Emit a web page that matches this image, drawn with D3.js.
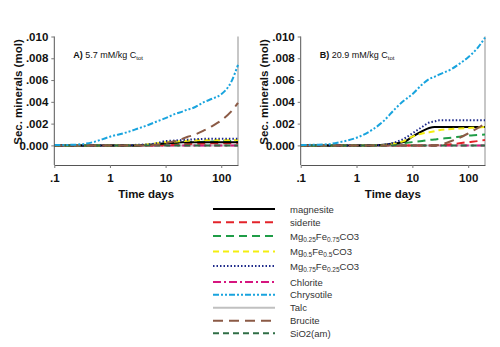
<!DOCTYPE html>
<html>
<head>
<meta charset="utf-8">
<script src="https://cdn.jsdelivr.net/npm/d3@7"></script>
<style>
  body { margin: 0; background: #fff; }
  svg { font-family: "Liberation Sans", Arial, sans-serif; }
</style>
</head>
<body>
<div id="chart"></div>
<script>
const width = 500;
const height = 347;

// time points (days)
const times = [0.1, 0.2, 0.3, 0.5, 1, 2, 3, 5, 7, 10, 15, 20, 25, 30, 50, 70, 100, 150, 200];

const xTickValues = [0.1, 1, 10, 100];
const xTickLabels = ['.1', '1', '10', '100'];
const yTickValues = [0, 0.002, 0.004, 0.006, 0.008, 0.010];
const yTickLabels = ['0.000', '.002', '.004', '.006', '.008', '.010'];

const mineralNames = ['magnesite', 'siderite', 'Mg0.25Fe0.75CO3', 'Mg0.5Fe0.5CO3', 'Mg0.75Fe0.25CO3',
  'Chlorite', 'Chrysotile', 'Talc', 'Brucite', 'SiO2(am)'];

const zeros = times.map(() => 0);

// panel A: 5.7 mM/kg
const magnesiteA = [0, 0, 0, 0, 0, 0, 0, 0.00005, 0.0001, 0.0002, 0.00025, 0.0003, 0.0003, 0.0003, 0.0003, 0.0003, 0.0003, 0.0003, 0.0003];
const sideriteA = [0, 0, 0, 0, 0, 0, 0, 0, 0, 0.00003, 0.00006, 0.0001, 0.00012, 0.00014, 0.00018, 0.0002, 0.0002, 0.0002, 0.0002];
const mg25A = [0, 0, 0, 0, 0, 0, 0, 0.00005, 0.0001, 0.0002, 0.00025, 0.0003, 0.0003, 0.0003, 0.00033, 0.00035, 0.00037, 0.0004, 0.0004];
const mg50A = [0, 0, 0, 0, 0, 0, 0.00003, 0.0001, 0.0002, 0.0003, 0.00035, 0.0004, 0.00043, 0.00045, 0.0005, 0.0005, 0.0005, 0.0005, 0.0005];
const mg75A = [0, 0, 0, 0, 0, 0, 0.00005, 0.0001, 0.0002, 0.0004, 0.00045, 0.0005, 0.00053, 0.00055, 0.0006, 0.0006, 0.0006, 0.0006, 0.0006];
const chrysotileA = [0.00003, 0.00005, 0.0001, 0.0003, 0.0008, 0.0012, 0.0015, 0.0019, 0.0022, 0.0025, 0.0029, 0.0031, 0.0033, 0.0034, 0.004, 0.0043, 0.0047, 0.0058, 0.0074];
const bruciteA = [0, 0, 0, 0, 0, 0, 0, 0, 0.00005, 0.0002, 0.0004, 0.0006, 0.0008, 0.0009, 0.0014, 0.0018, 0.0023, 0.0031, 0.0039];

// panel B: 20.9 mM/kg
const magnesiteB = [0, 0, 0, 0, 0, 0, 0.00005, 0.0002, 0.0003, 0.0008, 0.0013, 0.0016, 0.0017, 0.0017, 0.0017, 0.0017, 0.0017, 0.0017, 0.0017];
const sideriteB = [0, 0, 0, 0, 0, 0, 0, 0, 0, 0, 0, 0, 0, 0.00002, 0.0001, 0.0002, 0.0003, 0.0004, 0.0005];
const mg25B = [0, 0, 0, 0, 0, 0, 0, 0.0001, 0.0002, 0.0003, 0.0004, 0.0005, 0.00055, 0.0006, 0.0007, 0.0008, 0.0009, 0.00095, 0.001];
const mg50B = [0, 0, 0, 0, 0, 0, 0.00003, 0.0002, 0.0004, 0.0008, 0.0011, 0.0012, 0.0013, 0.0014, 0.0015, 0.00155, 0.0016, 0.00165, 0.0017];
const mg75B = [0, 0, 0, 0, 0, 0, 0.00005, 0.0003, 0.0006, 0.0011, 0.0017, 0.0021, 0.0022, 0.0023, 0.0023, 0.0023, 0.0023, 0.0023, 0.0023];
const chrysotileB = [0.00004, 0.00006, 0.0001, 0.0003, 0.0007, 0.0015, 0.0022, 0.0034, 0.0041, 0.0047, 0.0056, 0.0061, 0.0063, 0.0065, 0.007, 0.0075, 0.0081, 0.009, 0.0099];
const bruciteB = [0, 0, 0, 0, 0, 0, 0, 0, 0, 0, 0, 0, 0, 0.00005, 0.0004, 0.0007, 0.0011, 0.0016, 0.002];

const styles = [
  { color: '#000000', dash: null, w: 2 },
  { color: '#e3232a', dash: '8,5', w: 2 },
  { color: '#1f9d47', dash: '8,5', w: 2 },
  { color: '#f3ee10', dash: '6,4', w: 2 },
  { color: '#1e2a8a', dash: '1.5,2', w: 2 },
  { color: '#d6157f', dash: '8,3,2,3', w: 2 },
  { color: '#19a4de', dash: '6,2,2,2,2,2', w: 2 },
  { color: '#c0c0c0', dash: null, w: 2 },
  { color: '#8b5a45', dash: '10,6', w: 2 },
  { color: '#2f6e46', dash: '6,4', w: 2 }
];

const panels = [
  { label: 'A)', text: ' 5.7 mM/kg C', left: 54.3, right: 238, yLabelX: 22,
    series: [magnesiteA, sideriteA, mg25A, mg50A, mg75A, zeros, chrysotileA, zeros, bruciteA, zeros] },
  { label: 'B)', text: ' 20.9 mM/kg C', left: 300.7, right: 485, yLabelX: 268,
    series: [magnesiteB, sideriteB, mg25B, mg50B, mg75B, zeros, chrysotileB, zeros, bruciteB, zeros] }
];

const svg = d3.select('#chart').append('svg')
  .attr('width', width)
  .attr('height', height);

const plotTop = 36.5, plotBottom = 165;
const y = d3.scaleLinear().domain([-0.0018, 0.010]).range([plotBottom, plotTop]);

// draw order: flat ones first, SiO2 over the zero line, chrysotile on top
const drawOrder = [7, 5, 1, 2, 0, 3, 4, 9, 8, 6];

panels.forEach(p => {
  const x = d3.scaleLog().domain([0.1, 200]).range([p.left, p.right]);
  const g = svg.append('g');

  // right border (gray)
  g.append('line')
    .attr('x1', p.right).attr('x2', p.right)
    .attr('y1', plotTop).attr('y2', plotBottom)
    .attr('stroke', '#b5b5b5').attr('stroke-width', 1.5);

  const line = d3.line()
    .x((d, i) => x(times[i]))
    .y(d => y(d))
    .curve(d3.curveMonotoneX);

  drawOrder.forEach(k => {
    const s = styles[k];
    g.append('path')
      .attr('d', line(p.series[k]))
      .attr('fill', 'none')
      .attr('stroke', s.color)
      .attr('stroke-width', s.w)
      .attr('stroke-dasharray', s.dash);
  });

  const yAxis = d3.axisLeft(y)
    .tickValues(yTickValues)
    .tickFormat((d, i) => yTickLabels[i])
    .tickSize(3)
    .tickSizeOuter(0);
  const ya = g.append('g').attr('transform', `translate(${p.left},0)`).call(yAxis);
  ya.select('.domain').attr('d', `M0,${plotTop}V${plotBottom}`).attr('stroke', '#555');
  ya.selectAll('.tick line').attr('stroke', '#777');
  ya.selectAll('text').attr('font-size', 11.5).attr('font-weight', 'bold')
    .attr('font-family', '"Liberation Sans", Arial, sans-serif').attr('fill', '#111').attr('x', -6);

  const xAxis = d3.axisBottom(x)
    .tickValues(xTickValues)
    .tickFormat((d, i) => xTickLabels[i])
    .tickSize(3)
    .tickSizeOuter(0);
  const xa = g.append('g').attr('transform', `translate(0,${plotBottom})`).call(xAxis);
  xa.select('.domain').attr('stroke', '#555');
  xa.selectAll('.tick line').attr('stroke', '#777');
  xa.selectAll('text').attr('font-size', 11.5).attr('font-weight', 'bold')
    .attr('font-family', '"Liberation Sans", Arial, sans-serif').attr('fill', '#111').attr('y', 9);

  g.append('text')
    .attr('x', (p.left + p.right) / 2)
    .attr('y', 197.5)
    .attr('text-anchor', 'middle')
    .attr('font-size', 11.5).attr('font-weight', 'bold').attr('fill', '#111')
    .text('Time days');

  g.append('text')
    .attr('transform', `translate(${p.yLabelX},92) rotate(-90)`)
    .attr('text-anchor', 'middle')
    .attr('font-size', 11.5).attr('font-weight', 'bold').attr('fill', '#111')
    .text('Sec. minerals (mol)');

  const ann = g.append('text')
    .attr('x', p.left + 19)
    .attr('y', 58)
    .attr('font-size', 9).attr('fill', '#111');
  ann.append('tspan').attr('font-weight', 'bold').text(p.label);
  ann.append('tspan').text(p.text);
  ann.append('tspan').attr('font-size', 6).attr('dy', 2).text('tot');
});

// legend
const legendY = [209, 222.3, 236, 251.5, 266, 282, 294.7, 307.7, 320.7, 333.3];
const legend = svg.append('g');
mineralNames.forEach((name, k) => {
  const s = styles[k];
  const ly = legendY[k];
  legend.append('line')
    .attr('x1', 213).attr('x2', 275)
    .attr('y1', ly).attr('y2', ly)
    .attr('stroke', s.color)
    .attr('stroke-width', s.w)
    .attr('stroke-dasharray', s.dash);
  const t = legend.append('text')
    .attr('x', 290).attr('y', ly + 3.5)
    .attr('font-size', 9.5).attr('fill', '#333');
  const m = name.match(/^Mg([\d.]+)Fe([\d.]+)CO3$/);
  if (m) {
    t.append('tspan').text('Mg');
    t.append('tspan').attr('font-size', 6.5).attr('dy', 2).text(m[1]);
    t.append('tspan').attr('dy', -2).text('Fe');
    t.append('tspan').attr('font-size', 6.5).attr('dy', 2).text(m[2]);
    t.append('tspan').attr('dy', -2).text('CO3');
  } else {
    t.text(name);
  }
});
</script>
</body>
</html>
